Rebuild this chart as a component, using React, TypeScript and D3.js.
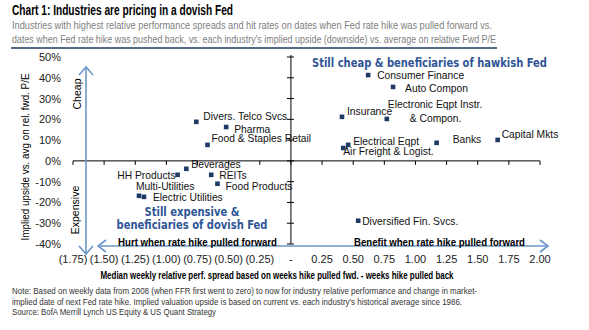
import React from "react";
import * as d3 from "d3";

const industries = [
  "Divers. Telco Svcs", "Pharma", "Food & Staples Retail", "Beverages", "HH Products",
  "REITs", "Food Products", "Multi-Utilities", "Electric Utilities", "Consumer Finance",
  "Auto Compon", "Insurance", "Electronic Eqpt Instr.", "Electrical Eqpt",
  "Air Freight & Logist.", "Banks", "Capital Mkts", "Diversified Fin. Svcs.",
];
const perfSpread = [-0.76, -0.52, -0.67, -0.84, -0.91, -0.64, -0.59, -1.22, -1.18, 0.62, 0.82, 0.41, 0.77, 0.46, 0.42, 1.17, 1.66, 0.54];
const upside = [18.8, 16.3, 7.7, -3.8, -6.7, -6.7, -11.0, -16.8, -17.3, 41.3, 35.6, 21.2, 20.2, 7.7, 6.2, 8.7, 10.1, -28.8];
const xTicks = [-1.75, -1.5, -1.25, -1.0, -0.75, -0.5, -0.25, 0, 0.25, 0.5, 0.75, 1.0, 1.25, 1.5, 1.75, 2.0];
const yTicks = [50, 40, 30, 20, 10, 0, -10, -20, -30, -40];

// label placement (layout only)
const labelOffsets: [number, number, string][] = [
  [7, -5, "start"], [8, 2, "start"], [4, -6, "start"], [5, -4, "start"], [-2, 1, "end"],
  [8, 1, "start"], [8, 3, "start"], [-3, -9, "start"], [9, 1, "start"], [9, 0, "start"],
  [12, 2, "start"], [5, -5, "start"], [1, -14, "start"], [5, -3, "start"],
  [0, 3, "start"], [16, -3, "start"], [4, -5, "start"], [4, 1, "start"],
];

const x = d3.scaleLinear().domain([-1.75, 2.0]).range([73, 540]);
const y = d3.scaleLinear().domain([50, -40]).range([57, 244]);

const fmtX = (v: number) => (v === 0 ? "-" : v < 0 ? `(${Math.abs(v).toFixed(2)})` : v.toFixed(2));

const SANS = "Liberation Sans, Arial, sans-serif";
const NARROW = "Liberation Sans Narrow, Liberation Sans, Arial, sans-serif";
const QUAD = "DejaVu Sans Condensed, DejaVu Sans, sans-serif";
const ARROW = "#6b96c9";
const NAVY = "#1f3864";
const QBLUE = "#2f5597";

export default function App() {
  const x0 = x(0);
  const y0 = y(0);
  const ax = 86;
  const ay = 246;
  return (
    <svg width={589} height={330} style={{ position: "absolute", left: 0, top: 0, background: "#fff" }}>
      {/* Title */}
      <text x={12} y={15} fontFamily={NARROW} fontWeight="bold" fontSize={14} fill="#000" textLength={221} lengthAdjust="spacingAndGlyphs">
        Chart 1: Industries are pricing in a dovish Fed
      </text>
      <text x={12} y={29} fontFamily={NARROW} fontSize={10.5} fill="#808080" textLength={480} lengthAdjust="spacingAndGlyphs">
        Industries with highest relative performance spreads and hit rates on dates when Fed rate hike was pulled forward vs.
      </text>
      <text x={12} y={43} fontFamily={NARROW} fontSize={10.5} fill="#808080" textLength={484} lengthAdjust="spacingAndGlyphs">
        dates when Fed rate hike was pushed back, vs. each industry's implied upside (downside) vs. average on relative Fwd P/E
      </text>
      <line x1={11} x2={497} y1={48} y2={48} stroke="#1f3864" strokeWidth={1.5} />

      {/* axes */}
      <line x1={x(-1.75)} x2={x(2.0)} y1={y0} y2={y0} stroke="#000" strokeWidth={1} />
      {xTicks.map((t) => (
        <line key={"xt" + t} x1={x(t)} x2={x(t)} y1={y0} y2={y0 + 4} stroke="#000" />
      ))}
      <line x1={x0} x2={x0} y1={y(50) - 2} y2={y(-40)} stroke="#000" strokeWidth={1} />
      {yTicks.map((t) => (
        <line key={"yt" + t} x1={x0 - 4} x2={x0 + 3} y1={y(t)} y2={y(t)} stroke="#000" />
      ))}

      {/* tick labels */}
      {yTicks.map((t) => (
        <text key={"yl" + t} x={61} y={y(t)} dominantBaseline="central" textAnchor="end" fontFamily={SANS} fontSize={11} fill="#222">
          {t}%
        </text>
      ))}
      {xTicks.map((t) => (
        <text key={"xl" + t} x={x(t)} y={259} dominantBaseline="central" textAnchor="middle" fontFamily={SANS} fontSize={11} fill="#222">
          {fmtX(t)}
        </text>
      ))}

      {/* axis titles */}
      <text x={277} y={275} textAnchor="middle" dominantBaseline="central" fontFamily={SANS} fontWeight="bold" fontSize={10.5} fill="#000" textLength={353} lengthAdjust="spacingAndGlyphs">
        Median weekly relative perf. spread based on weeks hike pulled fwd. - weeks hike pulled back
      </text>
      <text transform="translate(25,157) rotate(-90)" textAnchor="middle" dominantBaseline="central" fontFamily={SANS} fontSize={10.5} fill="#000" textLength={167} lengthAdjust="spacingAndGlyphs">
        Implied upside vs. avg on rel. fwd. P/E
      </text>

      {/* arrows */}
      <g stroke={ARROW} strokeWidth={1.6} fill="none">
        <line x1={ax} x2={ax} y1={67} y2={254} />
        <path d={`M${ax - 7},${75} L${ax},${67} L${ax + 7},${75}`} />
        <path d={`M${ax - 7},${246} L${ax},${254} L${ax + 7},${246}`} />
        <line x1={98} x2={548} y1={ay} y2={ay} />
        <path d={`M${106},${ay - 6} L${98},${ay} L${106},${ay + 6}`} />
        <path d={`M${540},${ay - 6} L${548},${ay} L${540},${ay + 6}`} />
      </g>
      <text transform="translate(77,94) rotate(-90)" textAnchor="middle" dominantBaseline="central" fontFamily={SANS} fontSize={10.5} fill="#000">
        Cheap
      </text>
      <text transform="translate(75,210) rotate(-90)" textAnchor="middle" dominantBaseline="central" fontFamily={SANS} fontSize={10.5} fill="#000">
        Expensive
      </text>
      <text x={118} y={242} dominantBaseline="central" fontFamily={SANS} fontWeight="bold" fontSize={10.5} fill="#000" textLength={159} lengthAdjust="spacingAndGlyphs">
        Hurt when rate hike pulled forward
      </text>
      <text x={354} y={242} dominantBaseline="central" fontFamily={SANS} fontWeight="bold" fontSize={10.5} fill="#000" textLength={171} lengthAdjust="spacingAndGlyphs">
        Benefit when rate hike pulled forward
      </text>

      {/* quadrant labels */}
      <text x={312} y={63} dominantBaseline="central" fontFamily={QUAD} fontWeight="bold" fontSize={12} fill={QBLUE} textLength={235} lengthAdjust="spacingAndGlyphs">
        Still cheap &amp; beneficiaries of hawkish Fed
      </text>
      <text x={192} y={212} textAnchor="middle" dominantBaseline="central" fontFamily={QUAD} fontWeight="bold" fontSize={12} fill={QBLUE} textLength={95} lengthAdjust="spacingAndGlyphs">
        Still expensive &amp;
      </text>
      <text x={192} y={225} textAnchor="middle" dominantBaseline="central" fontFamily={QUAD} fontWeight="bold" fontSize={12} fill={QBLUE} textLength={151} lengthAdjust="spacingAndGlyphs">
        beneficiaries of dovish Fed
      </text>

      {/* points */}
      {industries.map((name, i) => (
        <rect key={"p" + i} x={x(perfSpread[i]) - 2.3} y={y(upside[i]) - 2.3} width={4.6} height={4.6} fill={NAVY} />
      ))}
      {industries.map((name, i) => {
        const [dx, dy, anchor] = labelOffsets[i];
        return (
          <text key={"l" + i} x={x(perfSpread[i]) + dx} y={y(upside[i]) + dy} textAnchor={anchor as any} dominantBaseline="central" fontFamily={SANS} fontSize={10.3} fill="#111">
            {name}
          </text>
        );
      })}
      <text x={x(0.77) + 23} y={y(20.2)} dominantBaseline="central" fontFamily={SANS} fontSize={10.3} fill="#111">
        &amp; Compon.
      </text>

      {/* notes */}
      <text x={12} y={290} dominantBaseline="central" fontFamily={NARROW} fontSize={9.5} fill="#333" textLength={465} lengthAdjust="spacingAndGlyphs">
        Note: Based on weekly data from 2008 (when FFR first went to zero) to now for industry relative performance and change in market-
      </text>
      <text x={12} y={301} dominantBaseline="central" fontFamily={NARROW} fontSize={9.5} fill="#333" textLength={450} lengthAdjust="spacingAndGlyphs">
        implied date of next Fed rate hike. Implied valuation upside is based on current vs. each industry's historical average since 1986.
      </text>
      <text x={12} y={311} dominantBaseline="central" fontFamily={NARROW} fontSize={9.5} fill="#333" textLength={204} lengthAdjust="spacingAndGlyphs">
        Source: BofA Merrill Lynch US Equity &amp; US Quant Strategy
      </text>
    </svg>
  );
}
